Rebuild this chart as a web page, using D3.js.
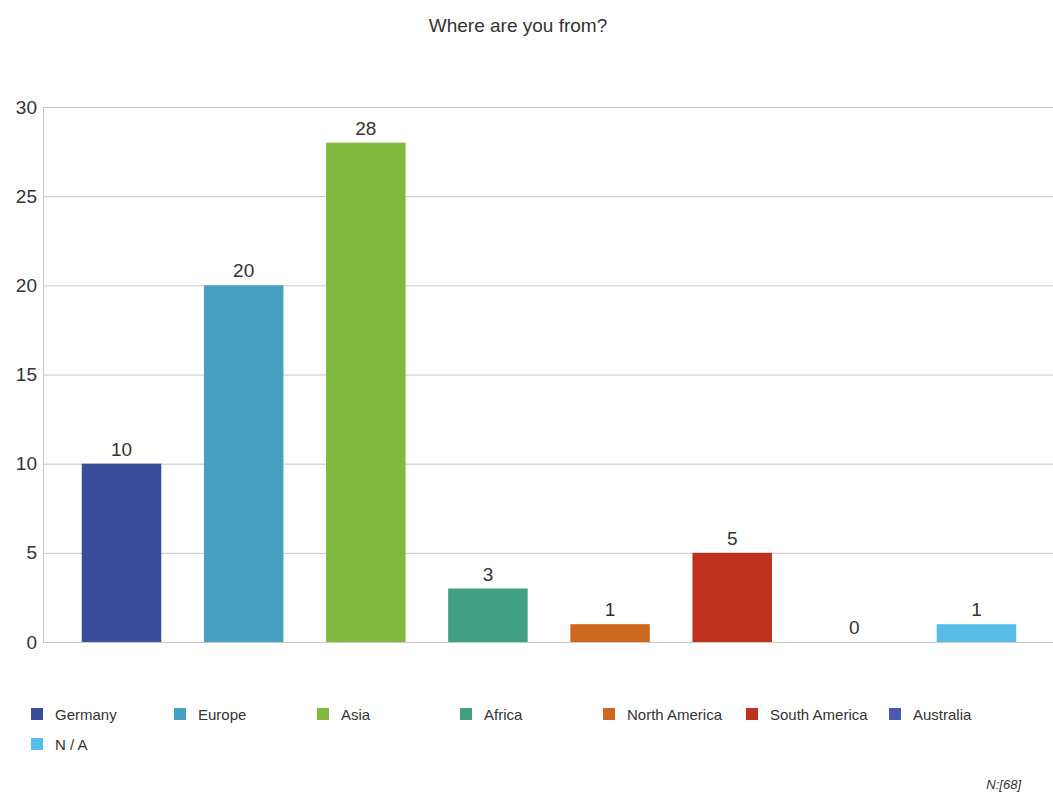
<!DOCTYPE html>
<html><head><meta charset="utf-8">
<script src="https://cdn.jsdelivr.net/npm/d3@7"></script>
<style>body{margin:0;background:#fff}svg{display:block;font-family:"Liberation Sans",Arial,sans-serif}</style>
</head><body>
<script>
const categories = ["Germany","Europe","Asia","Africa","North America","South America","Australia","N / A"];
const values = [10,20,28,3,1,5,0,1];
const colors = ["#3a4c9a","#45a1bf","#82b940","#41a084","#cf681f","#bd311e","#4a58b0","#56bee6"];
const yTicks = [0,5,10,15,20,25,30];
const title = "Where are you from?";
const footnote = "N:[68]";

const W = 1053, H = 794;
const svg = d3.select("body").append("svg").attr("width", W).attr("height", H);

const x = d3.scaleBand().domain(categories).range([43, 1055]).paddingInner(0.349).paddingOuter(0.3175);
const y = d3.scaleLinear().domain([0, 30]).range([642, 107]);

svg.append("text").attr("x", 518).attr("y", 32).attr("text-anchor", "middle")
  .attr("font-size", 19).attr("fill", "#333").text(title);

// gridlines + axis
const yAxis = d3.axisLeft(y).tickValues(yTicks).tickSize(0).tickPadding(6);
const gy = svg.append("g").attr("transform", "translate(43,0)").call(yAxis);
gy.select(".domain").attr("stroke", "#c8c8c8");
gy.selectAll(".tick text").attr("font-size", 19).attr("fill", "#333").attr("font-family", "Liberation Sans, Arial, sans-serif");
gy.selectAll(".tick line").attr("x2", 1053 - 43).attr("stroke", "#c8c8c8");

// bars
svg.append("g").selectAll("rect").data(values).join("rect")
  .attr("x", (d, i) => x(categories[i]))
  .attr("width", x.bandwidth())
  .attr("y", d => y(d))
  .attr("height", d => y(0) - y(d))
  .attr("fill", (d, i) => colors[i]);

// value labels
svg.append("g").selectAll("text").data(values).join("text")
  .attr("x", (d, i) => x(categories[i]) + x.bandwidth() / 2)
  .attr("y", d => y(d) - 8)
  .attr("text-anchor", "middle").attr("font-size", 19).attr("fill", "#333")
  .text(d => d);

// legend
const legStep = 143, legX0 = 31, legY0 = 714, legRow = 30, perRow = 7;
const leg = svg.append("g").selectAll("g").data(categories).join("g")
  .attr("transform", (d, i) => `translate(${legX0 + (i % perRow) * legStep},${legY0 + Math.floor(i / perRow) * legRow})`);
leg.append("rect").attr("x", 0).attr("y", -6).attr("width", 12).attr("height", 12).attr("fill", (d, i) => colors[i]);
leg.append("text").attr("x", 24).attr("y", 5.5).attr("font-size", 15).attr("fill", "#333").text(d => d);

svg.append("text").attr("x", 1021).attr("y", 789).attr("text-anchor", "end")
  .attr("font-size", 13).attr("font-style", "italic").attr("fill", "#333").text(footnote);
</script>
</body></html>
